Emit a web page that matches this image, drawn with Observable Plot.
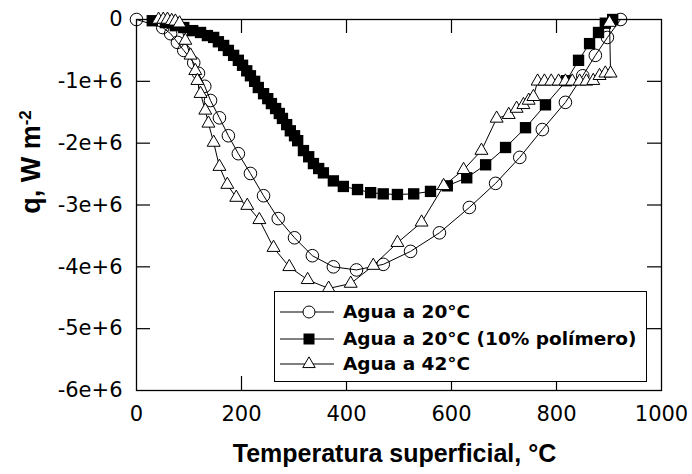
<!DOCTYPE html>
<html><head><meta charset="utf-8">
<script src="https://cdn.jsdelivr.net/npm/d3@7"></script>
<script src="https://cdn.jsdelivr.net/npm/@observablehq/plot@0.6"></script>
<style>
body{margin:0;background:#fff;}
#wrap{position:relative;width:692px;height:474px;}
svg text{font-family:"DejaVu Sans",sans-serif;}
.legend{position:absolute;left:274px;top:291px;width:373px;height:91px;box-sizing:border-box;border:1.5px solid #000;background:#fff;font-family:"DejaVu Sans",sans-serif;font-weight:bold;font-size:18.5px;color:#000;}
.legend .row{position:absolute;left:0;height:24px;width:100%;}
.legend svg{position:absolute;left:4px;top:0;}
.legend span{position:absolute;left:68px;top:0;line-height:24px;white-space:nowrap;}
</style></head><body><div id="wrap"></div>
<script>
// Agua a 20°C (circles)
const tempA = [0,50,65,78,90,109,118,130,141,158,175,194,217,242,270,301,335,375,419,470,522,577,634,684,730,773,817,850,874,897,922];
const qA = [0,-0.13e6,-0.23e6,-0.37e6,-0.50e6,-0.70e6,-0.87e6,-1.08e6,-1.31e6,-1.59e6,-1.88e6,-2.17e6,-2.49e6,-2.85e6,-3.22e6,-3.53e6,-3.82e6,-4.00e6,-4.05e6,-3.96e6,-3.75e6,-3.45e6,-3.04e6,-2.65e6,-2.23e6,-1.78e6,-1.34e6,-0.91e6,-0.58e6,-0.29e6,0];
// Agua a 20°C (10% polímero) (squares)
const tempB = [30,55,74,90,107,122,135,147,156,166,175,185,194,202,210,217,225,232,242,250,257,265,272,278,286,293,301,307,318,328,337,347,356,375,394,421,446,470,497,528,560,592,629,665,703,741,779,819,842,863,880,893,907];
const qB = [-0.02e6,-0.05e6,-0.10e6,-0.13e6,-0.18e6,-0.21e6,-0.26e6,-0.29e6,-0.36e6,-0.42e6,-0.50e6,-0.58e6,-0.66e6,-0.74e6,-0.83e6,-0.91e6,-1.00e6,-1.10e6,-1.20e6,-1.28e6,-1.36e6,-1.44e6,-1.52e6,-1.60e6,-1.70e6,-1.80e6,-1.88e6,-1.96e6,-2.12e6,-2.22e6,-2.33e6,-2.41e6,-2.48e6,-2.61e6,-2.70e6,-2.75e6,-2.80e6,-2.82e6,-2.83e6,-2.82e6,-2.78e6,-2.69e6,-2.56e6,-2.35e6,-2.07e6,-1.75e6,-1.38e6,-0.99e6,-0.66e6,-0.39e6,-0.21e6,-0.06e6,0];
// Agua a 42°C (triangles)
const tempC = [42,51,59,67,74,82,93,103,112,116,122,131,137,147,158,173,190,211,234,261,291,326,366,408,451,497,543,585,623,657,686,709,724,737,747,756,764,777,790,804,817,830,844,857,870,882,893,903,901];
const qC = [0,0,0,-0.02e6,-0.03e6,-0.06e6,-0.34e6,-0.58e6,-0.83e6,-0.99e6,-1.20e6,-1.47e6,-1.68e6,-1.99e6,-2.38e6,-2.67e6,-2.88e6,-3.01e6,-3.24e6,-3.69e6,-4.00e6,-4.21e6,-4.35e6,-4.27e6,-3.98e6,-3.61e6,-3.28e6,-2.69e6,-2.43e6,-2.12e6,-1.60e6,-1.54e6,-1.44e6,-1.38e6,-1.31e6,-1.25e6,-1.00e6,-1.00e6,-1.00e6,-1.00e6,-1.00e6,-1.00e6,-1.00e6,-1.00e6,-0.99e6,-0.91e6,-0.87e6,-0.87e6,-0.05e6];

const seriesNames = ["Agua a 20°C","Agua a 20°C (10% polímero)","Agua a 42°C"];
const xTicks = [0,200,400,600,800,1000];
const yTicks = [0,-1e6,-2e6,-3e6,-4e6,-5e6,-6e6];
const xTitle = "Temperatura superficial, °C";

const A = tempA.map((t,i)=>({t, q:qA[i]}));
const B = tempB.map((t,i)=>({t, q:qB[i]}));
const C = tempC.map((t,i)=>({t, q:qC[i]}));

const W=692,H=474,mL=136,mR=31,mT=19,mB=84;
const tick=14, fw=W-mL-mR, fh=H-mT-mB;

const chart = Plot.plot({
  width:W, height:H, marginLeft:mL, marginRight:mR, marginTop:mT, marginBottom:mB,
  x:{domain:[0,1000]}, y:{domain:[-6e6,0]},
  style:{fontFamily:"DejaVu Sans", fontSize:"21px", color:"#000", background:"#fff", overflow:"visible"},
  marks:[
    Plot.axisX(xTicks,{tickSize:0, tickPadding:16, fontSize:21, label:null, tickFormat:d=>String(d)}),
    Plot.axisY(yTicks,{tickSize:0, tickPadding:14, fontSize:21, label:null, tickFormat:d=> d===0 ? "0" : (d/1e6)+"e+6"}),
    Plot.tickX(xTicks.slice(1,-1),{x:d=>d, insetTop:fh-tick, stroke:"#000", strokeWidth:1.2}),
    Plot.tickX(xTicks.slice(1,-1),{x:d=>d, insetBottom:fh-tick, stroke:"#000", strokeWidth:1.2}),
    Plot.tickY(yTicks.slice(1,-1),{y:d=>d, insetRight:fw-tick, stroke:"#000", strokeWidth:1.2}),
    Plot.tickY(yTicks.slice(1,-1),{y:d=>d, insetLeft:fw-tick, stroke:"#000", strokeWidth:1.2}),
    Plot.frame({stroke:"#000", strokeWidth:1.3}),
    Plot.line(A,{x:"t", y:"q", stroke:"#000", strokeWidth:1}),
    Plot.dot(A,{x:"t", y:"q", r:6.3, fill:"none", stroke:"#000", strokeWidth:1}),
    Plot.line(B,{x:"t", y:"q", stroke:"#000", strokeWidth:1}),
    Plot.dot(B,{x:"t", y:"q", symbol:"square", r:6.4, fill:"#000", stroke:"none"}),
    Plot.line(C,{x:"t", y:"q", stroke:"#000", strokeWidth:1}),
    Plot.dot(C,{x:"t", y:"q", symbol:"triangle", r:4.8, fill:"#fff", stroke:"#000", strokeWidth:1})
  ]
});

const svg = d3.select(chart);
svg.append("text")
  .attr("x", mL+fw/2-4).attr("y", 462)
  .attr("text-anchor","middle")
  .style("font-weight","bold").style("font-size","25px").style("font-family","'Liberation Sans', Arial, sans-serif")
  .text(xTitle);
const yt = svg.append("text")
  .attr("transform","translate(40,162) rotate(-90)")
  .attr("text-anchor","middle")
  .style("font-weight","bold").style("font-size","27px").style("font-family","'Liberation Sans', Arial, sans-serif");
yt.append("tspan").text("q, W m");
yt.append("tspan").attr("dy","-0.55em").style("font-size","17px").text("-2");

const wrap = document.getElementById("wrap");
wrap.appendChild(chart);

// legend
const leg = document.createElement("div");
leg.className="legend";
const rowTops=[8,35,60];
const syms=["circle","square","triangle"];
seriesNames.forEach((name,i)=>{
  const row=document.createElement("div");
  row.className="row"; row.style.top=rowTops[i]+"px";
  const s=d3.create("svg").attr("width",56).attr("height",24);
  s.append("line").attr("x1",1).attr("x2",55).attr("y1",12).attr("y2",12).attr("stroke","#000").attr("stroke-width",1);
  const sym = syms[i]==="circle"? d3.symbolCircle : syms[i]==="square"? d3.symbolSquare : d3.symbolTriangle;
  const size = syms[i]==="circle"? Math.PI*6*6 : syms[i]==="square"? 11*11 : Math.PI*4.6*4.6;
  s.append("path").attr("transform","translate(30,12)").attr("d", d3.symbol(sym, size)())
    .attr("fill", syms[i]==="square"?"#000":"#fff").attr("stroke", syms[i]==="square"?"none":"#000");
  row.appendChild(s.node());
  const sp=document.createElement("span"); sp.textContent=name; row.appendChild(sp);
  leg.appendChild(row);
});
wrap.appendChild(leg);
</script>
</body></html>
